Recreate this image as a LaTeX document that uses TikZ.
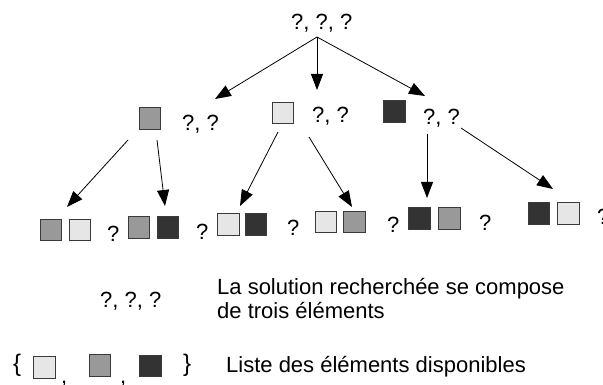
\documentclass[tikz,border=0pt]{standalone}
\usepackage{fontspec}
\setmainfont{Liberation Sans}
\usetikzlibrary{arrows.meta}
\definecolor{cLight}{HTML}{E6E6E6}
\definecolor{cMid}{HTML}{999999}
\definecolor{cDark}{HTML}{333333}
\definecolor{cEdge}{HTML}{3A3A3A}
\tikzset{
  sq/.style={draw=cEdge, line width=0.9pt, minimum size=21.5pt, inner sep=0pt},
  sqL/.style={sq, fill=cLight},
  sqM/.style={sq, fill=cMid},
  sqD/.style={sq, fill=cDark},
  txt/.style={anchor=base west, inner sep=0pt, font=\fontsize{22}{27}\selectfont},
  brc/.style={anchor=base west, inner sep=0pt, font=\fontsize{24}{28}\selectfont},
  arr/.style={line width=0.8pt, -{Triangle[length=16pt,width=12pt]}}
}
\begin{document}
\begin{tikzpicture}[x=1pt,y=-1pt]
\useasboundingbox (0,0) rectangle (603,385);
% root
\node[txt] (root) at (291,30) {?, ?, ?};
% level 1
\node[sqM] (g1) at (150,118.5) {};
\node[txt] (g1t) at (182,131) {?, ?};
\node[sqL] (l1) at (283,113) {};
\node[txt] (l1t) at (312,123) {?, ?};
\node[sqD] (d1) at (394.5,111.5) {};
\node[txt] (d1t) at (423,125) {?, ?};
% level 2
\node[sqM] (p1a) at (51,230) {};
\node[sqL] (p1b) at (80,230) {};
\node[txt] (p1t) at (107,242) {?};
\node[sqM] (p2a) at (139,227.5) {};
\node[sqD] (p2b) at (168,227.5) {};
\node[txt] (p2t) at (196,240) {?};
\node[sqL] (p3a) at (228.5,224.5) {};
\node[sqD] (p3b) at (256,224.5) {};
\node[txt] (p3t) at (287,236) {?};
\node[sqL] (p4a) at (326,222) {};
\node[sqM] (p4b) at (354.5,222) {};
\node[txt] (p4t) at (387,233) {?};
\node[sqD] (p5a) at (419.5,218.5) {};
\node[sqM] (p5b) at (449.5,218.5) {};
\node[txt] (p5t) at (479,230) {?};
\node[sqD] (p6a) at (539,213.5) {};
\node[sqL] (p6b) at (568.5,213.5) {};
\node[txt] (p6t) at (597,225) {?};
% arrow ends
\coordinate (o0) at (317,37);
\coordinate (tA) at (215,99);
\coordinate (tB) at (317,90);
\coordinate (tC) at (425,96);
\coordinate (sD) at (128,140);
\coordinate (tD) at (67,207);
\coordinate (sE) at (157,140);
\coordinate (tE) at (165,206);
\coordinate (sF) at (278,132);
\coordinate (tF) at (240,206);
\coordinate (sG) at (309,137);
\coordinate (tG) at (352,207);
\coordinate (sH) at (427,134);
\coordinate (tH) at (427,198);
\coordinate (sI) at (461,128);
\coordinate (tI) at (553,189);
\draw[arr] (o0) -- (tA);
\draw[arr] (o0) -- (tB);
\draw[arr] (o0) -- (tC);
\draw[arr] (sD) -- (tD);
\draw[arr] (sE) -- (tE);
\draw[arr] (sF) -- (tF);
\draw[arr] (sG) -- (tG);
\draw[arr] (sH) -- (tH);
\draw[arr] (sI) -- (tI);
% legend
\node[txt] (sol) at (100,307) {?, ?, ?};
\node[txt] (desc1) at (217,294) {La solution recherchée se compose};
\node[txt] (desc2) at (217,318) {de trois éléments};
\node[brc] (lbr) at (13,371) {\{};
\node[sqL] (eL) at (44.5,367.5) {};
\node[txt] (c1) at (61,383.5) {,};
\node[sqM] (eM) at (100,365.5) {};
\node[txt] (c2) at (120,383.5) {,};
\node[sqD] (eD) at (150.5,366) {};
\node[brc] (rbr) at (183,371) {\}};
\node[txt] (list) at (226,372) {Liste des éléments disponibles};
\end{tikzpicture}
\end{document}
